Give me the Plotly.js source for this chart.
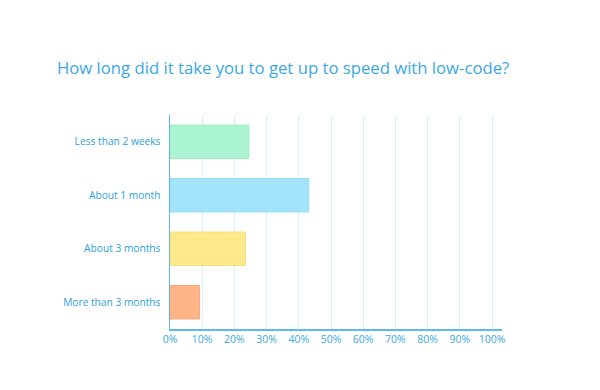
<!DOCTYPE html>
<html>
<head>
<meta charset="utf-8">
<script src="https://cdn.plot.ly/plotly-3.0.1.min.js"></script>
<style>html,body{margin:0;padding:0;background:#fff;}#chart{width:600px;height:390px;}</style>
</head>
<body>
<div id="chart"></div>
<script>
const categories = ["Less than 2 weeks", "About 1 month", "About 3 months", "More than 3 months"];
const values = [24.5, 43.1, 23.4, 9.2];
const barColors = ["#abf5d2", "#a3e4fb", "#ffe98b", "#ffb487"];
const barLines = ["#9eebc6", "#95daf5", "#f5de7c", "#f7a677"];
const xTickVals = [0, 10, 20, 30, 40, 50, 60, 70, 80, 90, 100];
const xTickText = ["0%", "10%", "20%", "30%", "40%", "50%", "60%", "70%", "80%", "90%", "100%"];

const trace = {
  type: "bar",
  orientation: "h",
  x: values,
  y: categories,
  marker: { color: barColors, line: { color: barLines, width: 1 } },
  hoverinfo: "x+y"
};

const layout = {
  width: 600,
  height: 390,
  margin: { l: 170, r: 98, t: 115, b: 61 },
  paper_bgcolor: "#ffffff",
  plot_bgcolor: "#ffffff",
  font: { family: "Open Sans, sans-serif", color: "#2a9fdc", size: 10 },
  title: {
    text: "How long did it take you to get up to speed with low-code?",
    font: { family: "Open Sans, sans-serif", size: 16.7, color: "#3ba8e3" },
    xref: "container", yref: "container",
    x: 0.095, xanchor: "left",
    y: 0.825, yanchor: "middle"
  },
  bargap: 0.375,
  showlegend: false,
  xaxis: {
    range: [0, 103.1],
    tickvals: xTickVals,
    ticktext: xTickText,
    showgrid: true,
    gridcolor: "#d9f1fb",
    gridwidth: 1,
    zeroline: false,
    showline: true,
    linecolor: "#5db9e8",
    linewidth: 1.5,
    ticks: "",
    tickfont: { size: 10.5, color: "#38a9e2" },
    fixedrange: true
  },
  yaxis: {
    autorange: "reversed",
    showgrid: false,
    zeroline: false,
    showline: true,
    linecolor: "#5db9e8",
    linewidth: 1.5,
    ticks: "",
    ticklabelstandoff: 6,
    tickfont: { size: 10.2, color: "#2a9fdc" },
    fixedrange: true
  }
};

Plotly.newPlot("chart", [trace], layout, { displayModeBar: false, staticPlot: true });
</script>
</body>
</html>
